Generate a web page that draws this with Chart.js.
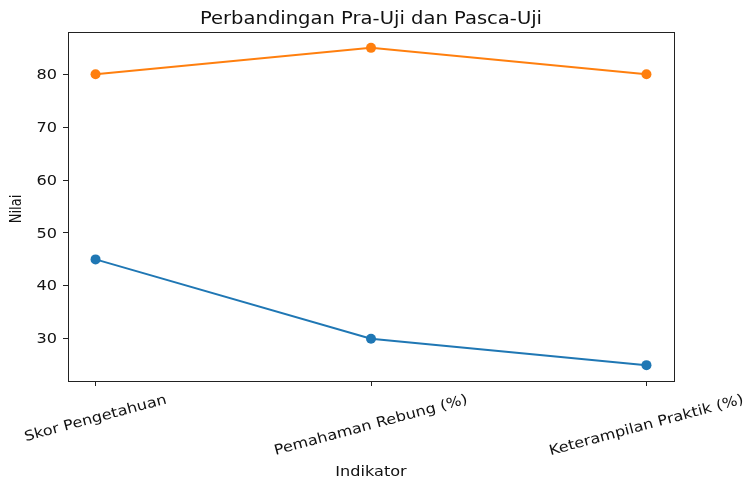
<!DOCTYPE html>
<html lang="id">
<head>
  <meta charset="UTF-8">
  <title>Perbandingan Pra-Uji dan Pasca-Uji</title>
  <script src="https://cdn.jsdelivr.net/npm/chart.js@4.4.1/dist/chart.umd.min.js"></script>
  <style>
    html, body { margin: 0; padding: 0; background: #fff; }
    #chart { display: block; }
  </style>
</head>
<body>
  <canvas id="chart" width="747" height="480"></canvas>
  <script>
    // data
    const indikator = ["Skor Pengetahuan", "Pemahaman Rebung (%)", "Keterampilan Praktik (%)"];
    const praUji = [45, 30, 25];
    const pascaUji = [80, 85, 80];
    const yTicks = [30, 40, 50, 60, 70, 80];

    const FONT = "'DejaVu Sans', sans-serif";
    const SX = 1.15; // the reference text is a bit wider than plain DejaVu

    // rotate first, then widen along the text direction
    function wideText(ctx, txt, x, y, size, angle, align, base) {
      ctx.save();
      ctx.translate(x, y);
      ctx.rotate(angle);
      ctx.scale(SX, 1);
      ctx.font = size + "px " + FONT;
      ctx.textAlign = align;
      ctx.textBaseline = base;
      ctx.fillStyle = "#111";
      ctx.fillText(txt, 0, 0);
      ctx.restore();
    }

    const textPlugin = {
      id: "mplText",
      afterDraw(chart) {
        const ctx = chart.ctx;
        const a = chart.chartArea;
        const xs = chart.scales.x;
        const ys = chart.scales.y;

        // box
        ctx.save();
        ctx.strokeStyle = "#222";
        ctx.lineWidth = 1;
        ctx.strokeRect(Math.round(a.left) + 0.5, Math.round(a.top) + 0.5,
          Math.round(a.right - a.left), Math.round(a.bottom - a.top));
        ctx.restore();

        // title
        wideText(ctx, "Perbandingan Pra-Uji dan Pasca-Uji", (a.left + a.right) / 2, 24, 17, 0, "center", "alphabetic");

        // y tick labels
        yTicks.forEach(v => {
          wideText(ctx, String(v), a.left - 11, ys.getPixelForValue(v) + 1, 14, 0, "right", "middle");
        });

        // x tick labels, rotated 15 deg, centred on the tick
        const th = 15 * Math.PI / 180;
        ctx.font = "14px " + FONT;
        indikator.forEach((lab, i) => {
          const w = ctx.measureText(lab).width * SX;
          const bh = w * Math.sin(th) + 16 * Math.cos(th);
          wideText(ctx, lab, xs.getPixelForValue(i), a.bottom + 11 + bh / 2, 14, -th, "center", "middle");
        });

        // axis titles
        wideText(ctx, "Indikator", (a.left + a.right) / 2, 476, 14, 0, "center", "alphabetic");
        ctx.save();
        ctx.translate(17, 209);
        ctx.scale(SX, 1);
        ctx.rotate(-Math.PI / 2);
        ctx.font = "13px " + FONT;
        ctx.textAlign = "center";
        ctx.textBaseline = "middle";
        ctx.fillStyle = "#111";
        ctx.fillText("Nilai", 0, 0);
        ctx.restore();
      }
    };

    new Chart(document.getElementById("chart"), {
      type: "line",
      data: {
        datasets: [
          {
            label: "Pra-Uji",
            data: praUji.map((v, i) => ({ x: i, y: v })),
            borderColor: "#1f77b4",
            backgroundColor: "#1f77b4",
            borderWidth: 2,
            pointRadius: 5,
            pointBorderWidth: 0,
            tension: 0
          },
          {
            label: "Pasca-Uji",
            data: pascaUji.map((v, i) => ({ x: i, y: v })),
            borderColor: "#ff7f0e",
            backgroundColor: "#ff7f0e",
            borderWidth: 2,
            pointRadius: 5,
            pointBorderWidth: 0,
            tension: 0
          }
        ]
      },
      options: {
        responsive: false,
        animation: false,
        layout: { padding: { left: 0, right: 73, top: 32, bottom: 0 } },
        plugins: {
          legend: { display: false },
          title: { display: false },
          tooltip: { enabled: false }
        },
        scales: {
          x: {
            type: "linear",
            min: -0.1,
            max: 2.1,
            afterBuildTicks: s => { s.ticks = indikator.map((_, i) => ({ value: i })); },
            afterFit: s => { s.height = 99; },
            ticks: { display: false },
            border: { display: false },
            grid: { drawOnChartArea: false, drawTicks: true, tickLength: 5, color: "#222" }
          },
          y: {
            min: 22,
            max: 88,
            afterBuildTicks: s => { s.ticks = yTicks.map(v => ({ value: v })); },
            afterFit: s => { s.width = 68; },
            ticks: { display: false },
            border: { display: false },
            grid: { drawOnChartArea: false, drawTicks: true, tickLength: 5, color: "#222" }
          }
        }
      },
      plugins: [textPlugin]
    });
  </script>
</body>
</html>
